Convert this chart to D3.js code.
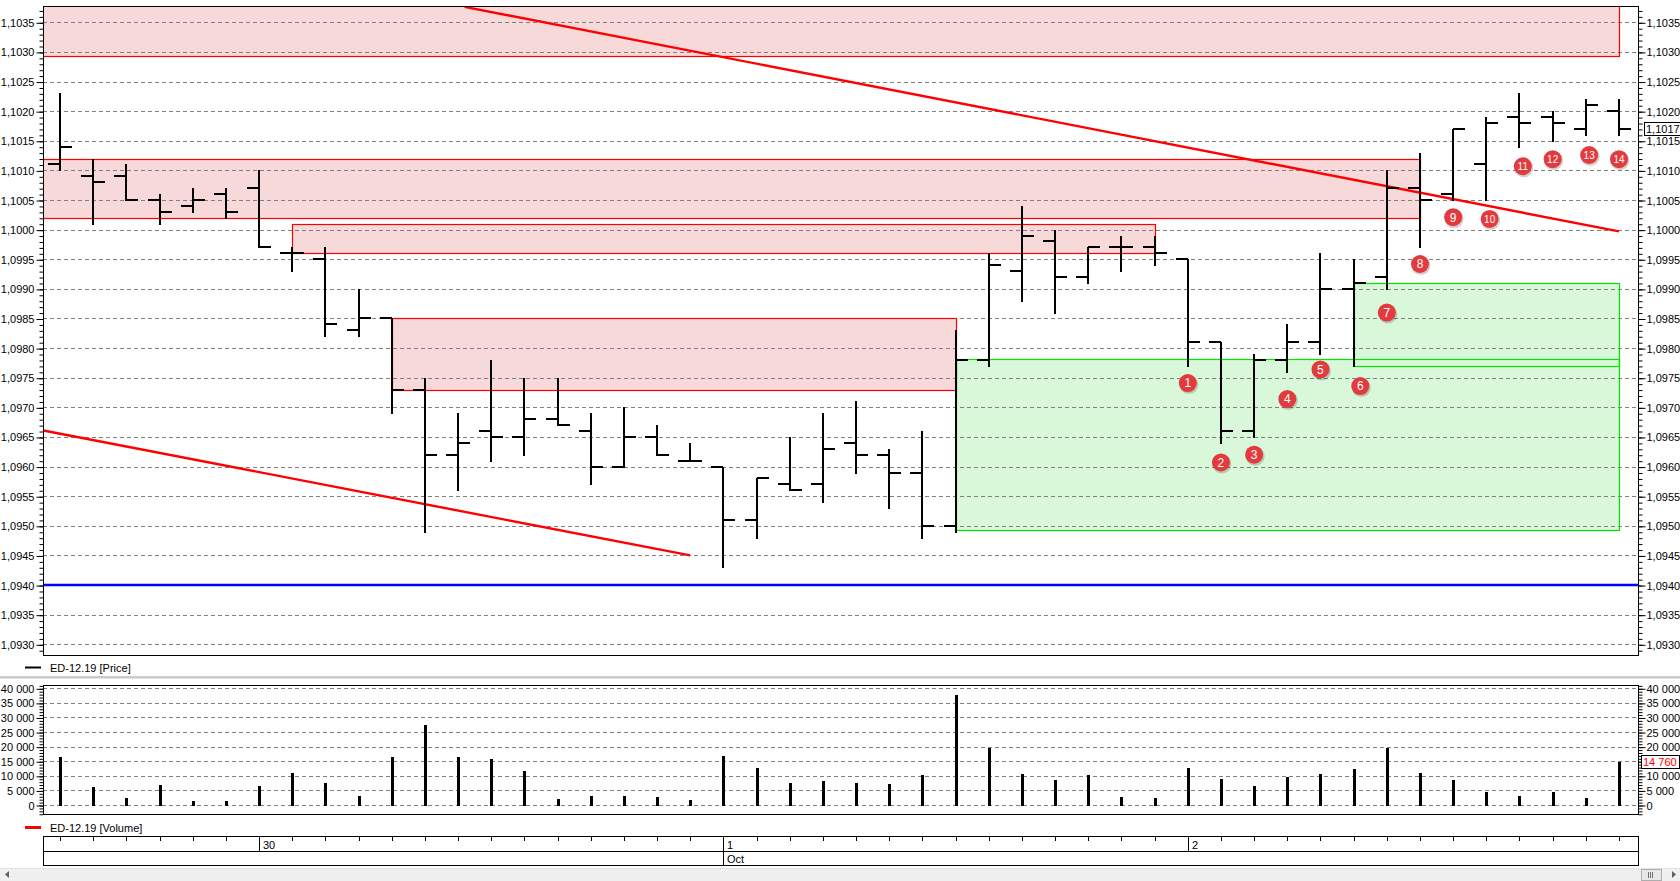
<!DOCTYPE html>
<html>
<head>
<meta charset="utf-8">
<script src="https://cdn.jsdelivr.net/npm/d3@7"></script>
<style>
    body { margin: 0; background: #fff; }
    svg { display: block; font-family: "Liberation Sans", Arial, sans-serif; }
</style>
</head>
<body>
<div id="chart"></div>
<script>
// ED-12.19 bars (index 0..47)
const opens  = [1.1011, 1.1009, 1.1009, 1.1005, 1.1004, 1.1006, 1.1007, 1.0996, 1.0995, 1.0983, 1.0985, 1.0973,
                1.0962, 1.0966, 1.0965, 1.0968, 1.0966, 1.0960, 1.0965, 1.0961, 1.0960, 1.0951, 1.0957, 1.0957,
                1.0964, 1.0962, 1.0959, 1.0950, 1.0978, 1.0993, 1.0998, 1.0992, 1.0997, 1.0997, 1.0995, 1.0981,
                1.0966, 1.0978, 1.0981, 1.0990, 1.0992, 1.1007, 1.1006, 1.1011, 1.1019, 1.1019, 1.1017, 1.1020]
const highs  = [1.1023, 1.1012, 1.1011, 1.1006, 1.1007, 1.1007, 1.1010, 1.0997, 1.0997, 1.0990, 1.0985, 1.0975,
                1.0969, 1.0978, 1.0975, 1.0975, 1.0969, 1.0970, 1.0967, 1.0964, 1.0960, 1.0958, 1.0965, 1.0969,
                1.0971, 1.0963, 1.0966, 1.0983, 1.0996, 1.1004, 1.1000, 1.0997, 1.0999, 1.0999, 1.0995, 1.0981,
                1.0979, 1.0984, 1.0996, 1.0995, 1.1010, 1.1013, 1.1017, 1.1019, 1.1023, 1.1020, 1.1022, 1.1022]
const lows   = [1.1010, 1.1001, 1.1005, 1.1001, 1.1003, 1.1002, 1.0997, 1.0993, 1.0982, 1.0982, 1.0969, 1.0949,
                1.0956, 1.0961, 1.0962, 1.0967, 1.0957, 1.0960, 1.0962, 1.0961, 1.0943, 1.0948, 1.0956, 1.0954,
                1.0959, 1.0953, 1.0948, 1.0949, 1.0977, 1.0988, 1.0986, 1.0991, 1.0993, 1.0994, 1.0977, 1.0964,
                1.0965, 1.0976, 1.0979, 1.0977, 1.0990, 1.0997, 1.1005, 1.1005, 1.1014, 1.1015, 1.1016, 1.1016]
const closes = [1.1014, 1.1008, 1.1005, 1.1003, 1.1005, 1.1003, 1.0997, 1.0996, 1.0984, 1.0985, 1.0973, 1.0962,
                1.0964, 1.0965, 1.0968, 1.0967, 1.0960, 1.0965, 1.0962, 1.0961, 1.0951, 1.0958, 1.0956, 1.0963,
                1.0962, 1.0959, 1.0950, 1.0978, 1.0994, 1.0999, 1.0992, 1.0997, 1.0997, 1.0996, 1.0981, 1.0966,
                1.0978, 1.0981, 1.0990, 1.0991, 1.1007, 1.1005, 1.1017, 1.1018, 1.1018, 1.1018, 1.1021, 1.1017]
const volumes = [16300, 6300, 2300, 6700, 1300, 1300, 6400, 10900, 7400, 3000, 16300, 27300,
                 16300, 15700, 11600, 2100, 3000, 3000, 2600, 1600, 16700, 12800, 7700, 8100,
                 7700, 7300, 10200, 37700, 19400, 10500, 8500, 10400, 2600, 2300, 12600, 8800,
                 6400, 9500, 10500, 12300, 19400, 11100, 8500, 4400, 3000, 4400, 2300, 14760]

// time axis
const dayStarts = [6, 20, 34]
const dayLabels = ["30", "1", "2"]
const monthStarts = [20]
const monthLabels = ["Oct"]

// supply / demand zones (bar index from..to, price top..bottom)
const zoneFrom   = [-1, -1, 7, 10, 27, 39]
const zoneTo     = [47, 41, 33, 27, 47, 47]
const zoneTop    = [1.1040, 1.1012, 1.1001, 1.0985, 1.09781, 1.0991]
const zoneBottom = [1.10293, 1.1002, 1.0996, 1.0973, 1.09493, 1.0977]
const zoneKind   = ["sell", "sell", "sell", "sell", "buy", "buy"]

// channel lines
const trendX0 = [12.2, -0.5]
const trendY0 = [1.10376, 1.09661]
const trendX1 = [47, 19]
const trendY1 = [1.09997, 1.0945]
const supportLevel = 1.0940

// numbered markers
const markerX = [34, 35, 36, 37, 38, 39.2, 40, 41, 42, 43.1, 44.1, 45, 46.1, 47]
const markerY = [1.09741, 1.09607, 1.09620, 1.09714, 1.09764, 1.09736, 1.09860, 1.09942,
                 1.10021, 1.10018, 1.10107, 1.10119, 1.10126, 1.10119]

const priceTicks = d3.range(22).map(i => +(1.0930 + i * 0.0005).toFixed(4))
const priceMinor = d3.range(110).map(i => +(1.0928 + i * 0.0001).toFixed(4))
const volTicks = d3.range(9).map(i => i * 5000)
const volMinor = d3.range(-3, 42).map(i => i * 1000)

const W = 1680, H = 881
const pp = { left: 43, right: 1638, top: 6, bottom: 655 }
const vp = { left: 43, right: 1638, top: 685, bottom: 814 }
const FS = 11

const svg = d3.select("#chart").append("svg")
    .attr("width", W)
    .attr("height", H)

const x = d3.scaleLinear().domain([0, 47]).range([60, 1619])
const y = d3.scaleLinear().domain([1.0930, 1.1035]).range([644.3, 22.3])
const yv = d3.scaleLinear().domain([0, 40000]).range([805, 688.3])

const px = i => Math.round(x(i))
const py = v => Math.round(y(v)) + 0.5

const defs = svg.append("defs")
defs.append("clipPath").attr("id", "clip-price")
    .append("rect")
    .attr("x", pp.left).attr("y", pp.top)
    .attr("width", pp.right - pp.left).attr("height", pp.bottom - pp.top)
defs.append("clipPath").attr("id", "clip-vol")
    .append("rect")
    .attr("x", vp.left).attr("y", vp.top)
    .attr("width", vp.right - vp.left).attr("height", vp.bottom - vp.top)

const priceFmt = v => d3.format(".4f")(v).replace(".", ",")
const volFmt = v => d3.format(",")(v).replace(/,/g, " ")

// ---------- price panel ----------
const plot = svg.append("g").attr("clip-path", "url(#clip-price)")

const zones = zoneFrom.map((f, i) => ({ f, t: zoneTo[i], top: zoneTop[i], bot: zoneBottom[i], kind: zoneKind[i] }))

plot.selectAll(".zone-fill")
    .data(zones)
    .join("rect")
    .attr("x", d => px(d.f))
    .attr("y", d => py(d.top))
    .attr("width", d => px(d.t) - px(d.f))
    .attr("height", d => py(d.bot) - py(d.top))
    .attr("fill", d => d.kind === "sell" ? "#f8d9d9" : "#d9f8d9")

plot.selectAll(".grid")
    .data(priceTicks)
    .join("line")
    .attr("x1", pp.left).attr("x2", pp.right)
    .attr("y1", d => py(d)).attr("y2", d => py(d))
    .attr("stroke", "#808080")
    .attr("stroke-dasharray", "4,3")

plot.selectAll(".zone-edge")
    .data(zones)
    .join("rect")
    .attr("x", d => px(d.f) + 0.5)
    .attr("y", d => py(d.top))
    .attr("width", d => px(d.t) - px(d.f))
    .attr("height", d => py(d.bot) - py(d.top))
    .attr("fill", "none")
    .attr("stroke", d => d.kind === "sell" ? "#ff0000" : "#00e600")
    .attr("stroke-width", 1.2)

plot.selectAll(".trend")
    .data(trendX0)
    .join("line")
    .attr("x1", (d, i) => x(trendX0[i]))
    .attr("y1", (d, i) => y(trendY0[i]))
    .attr("x2", (d, i) => x(trendX1[i]))
    .attr("y2", (d, i) => y(trendY1[i]))
    .attr("stroke", "#ff0000")
    .attr("stroke-width", 2.4)

plot.append("line")
    .attr("x1", pp.left).attr("x2", pp.right)
    .attr("y1", y(supportLevel)).attr("y2", y(supportLevel))
    .attr("stroke", "#0000ff")
    .attr("stroke-width", 2.5)

const bars = plot.append("g")
    .attr("stroke", "#000")
    .attr("stroke-width", 2)
    .attr("shape-rendering", "crispEdges")

opens.forEach((o, i) => {
    const cx = px(i)
    bars.append("line")
        .attr("x1", cx).attr("x2", cx)
        .attr("y1", Math.round(y(highs[i]))).attr("y2", Math.round(y(lows[i])) + 1)
    bars.append("line")
        .attr("x1", cx - 12).attr("x2", cx)
        .attr("y1", Math.round(y(o))).attr("y2", Math.round(y(o)))
    bars.append("line")
        .attr("x1", cx).attr("x2", cx + 12)
        .attr("y1", Math.round(y(closes[i]))).attr("y2", Math.round(y(closes[i])))
})

const marks = plot.selectAll(".marker")
    .data(markerX.map((m, i) => ({ i: m, v: markerY[i], n: i + 1 })))
    .join("g")
    .attr("transform", d => `translate(${x(d.i)},${y(d.v)})`)
marks.append("circle")
    .attr("cx", 1).attr("cy", 1.5).attr("r", 9.5)
    .attr("fill", "#000").attr("opacity", 0.18)
marks.append("circle")
    .attr("r", 9)
    .attr("fill", "#e33b3d")
marks.append("text")
    .attr("text-anchor", "middle")
    .attr("dy", "0.36em")
    .attr("fill", "#fff")
    .attr("font-size", d => d.n > 9 ? 10 : 12)
    .text(d => d.n)

svg.append("rect")
    .attr("x", pp.left + 0.5).attr("y", pp.top + 0.5)
    .attr("width", pp.right - pp.left).attr("height", pp.bottom - pp.top)
    .attr("fill", "none").attr("stroke", "#000")

function styleAxis(g) {
    g.select(".domain").remove()
    g.selectAll("text").attr("font-size", FS).attr("fill", "#000")
        .attr("font-family", "'Liberation Sans', Arial, sans-serif")
}

const inPrice = priceMinor.filter(v => y(v) >= pp.top && y(v) <= pp.bottom)

svg.append("g").attr("transform", `translate(${pp.left + 0.5},0.5)`)
    .call(d3.axisLeft(y).tickValues(inPrice).tickSize(4).tickFormat(""))
    .call(styleAxis)
svg.append("g").attr("transform", `translate(${pp.left + 0.5},0.5)`)
    .call(d3.axisLeft(y).tickValues(priceTicks).tickSize(7).tickPadding(2).tickFormat(priceFmt))
    .call(styleAxis)
svg.append("g").attr("transform", `translate(${pp.right + 0.5},0.5)`)
    .call(d3.axisRight(y).tickValues(inPrice).tickSize(4).tickFormat(""))
    .call(styleAxis)
svg.append("g").attr("transform", `translate(${pp.right + 0.5},0.5)`)
    .call(d3.axisRight(y).tickValues(priceTicks).tickSize(7).tickPadding(1).tickFormat(priceFmt))
    .call(styleAxis)

const lastPrice = closes[closes.length - 1]
const lp = svg.append("g").attr("transform", `translate(1644,${Math.round(y(lastPrice))})`)
lp.append("rect")
    .attr("x", 0.5).attr("y", -6.5).attr("width", 36).attr("height", 13)
    .attr("fill", "#fff").attr("stroke", "#000")
lp.append("text")
    .attr("x", 2).attr("dy", "0.36em")
    .attr("font-size", FS)
    .text(priceFmt(lastPrice))

// legend price
svg.append("line")
    .attr("x1", 25).attr("x2", 41).attr("y1", 667.5).attr("y2", 667.5)
    .attr("stroke", "#000").attr("stroke-width", 2)
svg.append("text")
    .attr("x", 50).attr("y", 671.5)
    .attr("font-size", FS)
    .text("ED-12.19 [Price]")

svg.append("rect").attr("x", 0).attr("y", 676.5).attr("width", W).attr("height", 1.2).attr("fill", "#a0a0a0")
svg.append("rect").attr("x", 0).attr("y", 677.7).attr("width", W).attr("height", 1).attr("fill", "#dcdcdc")

// ---------- volume panel ----------
const vplot = svg.append("g").attr("clip-path", "url(#clip-vol)")

vplot.selectAll(".vgrid")
    .data(volTicks)
    .join("line")
    .attr("x1", vp.left).attr("x2", vp.right)
    .attr("y1", d => Math.round(yv(d)) + 0.5).attr("y2", d => Math.round(yv(d)) + 0.5)
    .attr("stroke", "#808080")
    .attr("stroke-dasharray", "4,3")

vplot.selectAll(".vbar")
    .data(volumes)
    .join("line")
    .attr("x1", (d, i) => px(i) + 0.5).attr("x2", (d, i) => px(i) + 0.5)
    .attr("y1", Math.round(yv(0)) + 1).attr("y2", d => Math.round(yv(d)))
    .attr("stroke", "#000")
    .attr("stroke-width", 3)
    .attr("shape-rendering", "crispEdges")

svg.append("rect")
    .attr("x", vp.left + 0.5).attr("y", vp.top + 0.5)
    .attr("width", vp.right - vp.left).attr("height", vp.bottom - vp.top)
    .attr("fill", "none").attr("stroke", "#000")

const inVol = volMinor.filter(v => yv(v) >= vp.top && yv(v) <= vp.bottom)

svg.append("g").attr("transform", `translate(${vp.left + 0.5},0.5)`)
    .call(d3.axisLeft(yv).tickValues(inVol).tickSize(4).tickFormat(""))
    .call(styleAxis)
svg.append("g").attr("transform", `translate(${vp.left + 0.5},0.5)`)
    .call(d3.axisLeft(yv).tickValues(volTicks).tickSize(7).tickPadding(2).tickFormat(volFmt))
    .call(styleAxis)
svg.append("g").attr("transform", `translate(${vp.right + 0.5},0.5)`)
    .call(d3.axisRight(yv).tickValues(inVol).tickSize(4).tickFormat(""))
    .call(styleAxis)
svg.append("g").attr("transform", `translate(${vp.right + 0.5},0.5)`)
    .call(d3.axisRight(yv).tickValues(volTicks).tickSize(7).tickPadding(1).tickFormat(volFmt))
    .call(styleAxis)

const lastVol = volumes[volumes.length - 1]
const lvg = svg.append("g").attr("transform", `translate(1641,${Math.round(yv(lastVol))})`)
lvg.append("rect")
    .attr("x", 0.5).attr("y", -6.5).attr("width", 38).attr("height", 13)
    .attr("fill", "#fff").attr("stroke", "#000")
lvg.append("text")
    .attr("x", 2).attr("dy", "0.36em")
    .attr("font-size", FS)
    .attr("fill", "#ff0000")
    .text(volFmt(lastVol))

// legend volume
svg.append("line")
    .attr("x1", 25).attr("x2", 41).attr("y1", 827.5).attr("y2", 827.5)
    .attr("stroke", "#ff0000").attr("stroke-width", 3)
svg.append("text")
    .attr("x", 50).attr("y", 831.5)
    .attr("font-size", FS)
    .text("ED-12.19 [Volume]")

// ---------- time axis ----------
const tAxis = svg.append("g").attr("stroke", "#000").attr("shape-rendering", "crispEdges")
tAxis.append("rect")
    .attr("x", vp.left + 0.5).attr("y", 836.5)
    .attr("width", vp.right - vp.left).attr("height", 29)
    .attr("fill", "#fff")
tAxis.append("line")
    .attr("x1", vp.left).attr("x2", vp.right).attr("y1", 851.5).attr("y2", 851.5)
tAxis.selectAll(".ttick")
    .data(opens)
    .join("line")
    .attr("x1", (d, i) => px(i) + 0.5).attr("x2", (d, i) => px(i) + 0.5)
    .attr("y1", 837).attr("y2", 841)
tAxis.selectAll(".dayline")
    .data(dayStarts)
    .join("line")
    .attr("x1", d => px(d) + 0.5).attr("x2", d => px(d) + 0.5)
    .attr("y1", 837).attr("y2", 851)
tAxis.selectAll(".monline")
    .data(monthStarts)
    .join("line")
    .attr("x1", d => px(d) + 0.5).attr("x2", d => px(d) + 0.5)
    .attr("y1", 851).attr("y2", 866)

svg.selectAll(".daylabel")
    .data(dayStarts)
    .join("text")
    .attr("x", d => px(d) + 4)
    .attr("y", 848.5)
    .attr("font-size", FS)
    .text((d, i) => dayLabels[i])
svg.selectAll(".monlabel")
    .data(monthStarts)
    .join("text")
    .attr("x", d => px(d) + 4)
    .attr("y", 863)
    .attr("font-size", FS)
    .text((d, i) => monthLabels[i])

// ---------- scrollbar ----------
svg.append("rect").attr("x", 0).attr("y", 868).attr("width", W).attr("height", 13).attr("fill", "#f0f0f0")
svg.append("line").attr("x1", 0).attr("x2", W).attr("y1", 868.5).attr("y2", 868.5).attr("stroke", "#e3e3e3")
svg.append("path").attr("d", "M5,874.5 L9,871 L9,878 Z").attr("fill", "#606060")
svg.append("path").attr("d", "M1676,874.5 L1672,871 L1672,878 Z").attr("fill", "#606060")
svg.append("rect")
    .attr("x", 1641.5).attr("y", 869.5).attr("width", 20).attr("height", 11)
    .attr("fill", "#e8e8e8").attr("stroke", "#adadad")
svg.selectAll(".grip")
    .data([0, 1, 2])
    .join("line")
    .attr("x1", d => 1648.5 + d * 2).attr("x2", d => 1648.5 + d * 2)
    .attr("y1", 872).attr("y2", 878)
    .attr("stroke", "#707070")
</script>
</body>
</html>
